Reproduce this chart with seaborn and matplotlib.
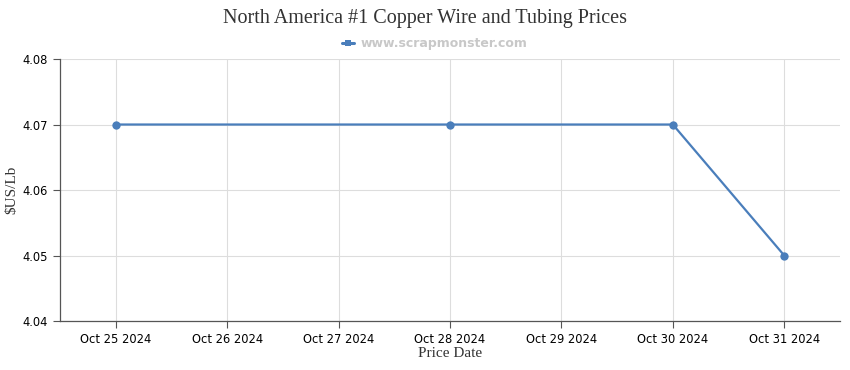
import pandas as pd
import matplotlib.pyplot as plt
import matplotlib.dates as mdates
import seaborn as sns

# data
dates = ["2024-10-25", "2024-10-28", "2024-10-30", "2024-10-31"]
prices = [4.07, 4.07, 4.07, 4.05]
tick_dates = ["2024-10-25", "2024-10-26", "2024-10-27", "2024-10-28",
              "2024-10-29", "2024-10-30", "2024-10-31"]
yticks = [4.04, 4.05, 4.06, 4.07, 4.08]

df = pd.DataFrame({"date": pd.to_datetime(dates), "price": prices})
ticks = pd.to_datetime(tick_dates)

sns.set_style("white")
fig = plt.figure(figsize=(8.5, 3.7), dpi=100)
ax = fig.add_axes([0.0706, 0.1324, 0.9176, 0.7081])

line_col = "#4a7ebb"
sns.lineplot(data=df, x="date", y="price", ax=ax, color=line_col, lw=1.6,
             marker="o", markersize=6, markeredgewidth=0, label="www.scrapmonster.com")

ax.set_xlim(ticks[0] - pd.Timedelta(hours=12), ticks[-1] + pd.Timedelta(hours=12))
ax.set_ylim(4.04, 4.08)
ax.set_xticks(ticks)
ax.xaxis.set_major_formatter(mdates.DateFormatter("%b %d %Y"))
ax.set_yticks(yticks)
ax.set_yticklabels([f"{v:.2f}" for v in yticks])
ax.grid(True, color="#dddddd", lw=0.8)
ax.tick_params(axis="both", labelsize=8.3, colors="#555555", length=5, width=0.8,
               direction="out", labelcolor="black")
ax.tick_params(axis="both", which="major", bottom=True, left=True)
for s in ["top", "right"]:
    ax.spines[s].set_visible(False)
for s in ["left", "bottom"]:
    ax.spines[s].set_color("#555555")
    ax.spines[s].set_linewidth(0.9)

ax.set_xlabel("Price Date", family="Liberation Serif", fontsize=11, color="#333333", labelpad=1)
ax.set_ylabel("$US/Lb", family="Liberation Serif", fontsize=11, color="#333333")
ax.yaxis.set_label_coords(-0.054, 0.5)
fig.suptitle("North America #1 Copper Wire and Tubing Prices", family="Liberation Serif",
             fontsize=14.5, color="#333333", y=0.975)

leg = ax.legend(loc="lower center", bbox_to_anchor=(0.48, 1.015), frameon=False,
                handlelength=1.0, handletextpad=0.5, borderaxespad=0.0,
                prop={"weight": "bold", "size": 9})
for t in leg.get_texts():
    t.set_color("#c8c8c8")
for h in leg.legend_handles:
    h.set_marker("s")
    h.set_markersize(5)
    h.set_linewidth(2.2)

plt.savefig("out.png", dpi=100)
